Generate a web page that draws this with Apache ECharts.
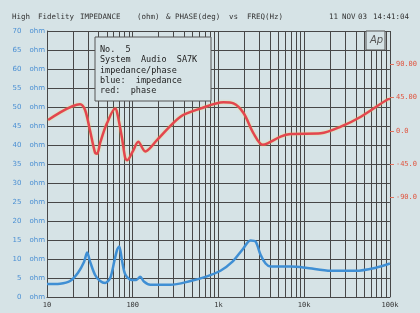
<!DOCTYPE html>
<html><head><meta charset="utf-8">
<script src="https://cdn.jsdelivr.net/npm/echarts@6/dist/echarts.min.js"></script>
<style>html,body{margin:0;padding:0;background:#d6e3e6;}#c{width:420px;height:313px;}</style>
</head><body><div id="c"></div>
<script>
// Frequency (Hz) / impedance (ohm)
const impFreq = [10,14.2,18.6,23,27.1,29.4,31.8,36.4,41.7,47.7,54.6,60.8,65.9,69.5,75.4,81.7,96,110,122,136,160,275,471,705,1055,1458,1909,2365,2708,3098,3546,4058,6950,10420,20420,40000,68500,100000];
const impOhm  = [3.4,3.5,4.2,6.4,9.3,11.7,9.3,5.8,4.2,3.7,5.0,9.3,12.5,13.3,9.3,6.0,4.5,4.5,5.3,4.0,3.2,3.2,4.2,5.3,6.9,9.3,12.5,14.9,14.6,11.1,8.8,8.0,8.0,7.7,6.9,6.9,7.7,8.8];
// Frequency (Hz) / phase (deg)
const phFreq = [10.3,24.3,27.8,31.8,36.4,38.4,42,50,62.4,65.9,75,81.7,86.2,100,116,140,194,360,615,1143,1497,1960,2564,3272,3743,5309,6950,15600,26730,45800,94800,100000];
const phDeg  = [14.5,36,28,0,-30,-31,-15,10,30,24,-10,-37,-40,-28,-15,-28,-12,19,30,38.5,37,24,-3.5,-19,-17,-8,-4.5,-3.5,5.5,19,42.6,43];
// Axis labels
const ohmTicks = [0,5,10,15,20,25,30,35,40,45,50,55,60,65,70];
const phaseTicks = [-90,-45,0,45,90];
const phaseLabels = {'-90':'-90.0','-45':'-45.0','0':'0.0','45':'45.00','90':'90.00'};
const freqLabels = {'10':'10','100':'100','1000':'1k','10000':'10k','100000':'100k'};
const boxLines = ['No.  5','System  Audio  SA7K','impedance/phase','blue:  impedance','red:  phase'];
const titleParts = [['High',12],['Fidelity',38],['IMPEDANCE',80],['(ohm)',137],['& PHASE(deg)',166],['vs',229],['FREQ(Hz)',247],['11',329],['NOV',342],['03',358],['14:41:04',373]];

const minorVals = [];
[10,100,1000,10000].forEach(d=>{for(let k=2;k<=9;k++)minorVals.push(d*k);});

const grid = {left:47,right:30,top:31,bottom:16};
const gridColor = '#474747';
const mono = 'DejaVu Sans Mono';

const chart = echarts.init(document.getElementById('c'),null,{renderer:'canvas'});
const graphic = [];
titleParts.forEach(p=>graphic.push({type:'text',left:p[1],top:13,z:100,style:{text:p[0],font:'7.5px "'+mono+'"',fill:'#333'}}));
graphic.push({type:'rect',shape:{x:95,y:37,width:116,height:64},z:100,style:{fill:'#d6e3e6',stroke:'#555',lineWidth:1}});
boxLines.forEach((t,i)=>graphic.push({type:'text',x:100,y:45+i*10.4,z:101,style:{text:t,font:'8.5px "'+mono+'"',fill:'#222'}}));
graphic.push({type:'rect',shape:{x:366,y:31,width:19,height:19},z:100,style:{fill:'#d6e3e6',stroke:'#555',lineWidth:1}});
graphic.push({type:'text',x:370,y:35,z:101,style:{text:'Ap',font:'italic 10px "DejaVu Sans"',fill:'#555'}});

chart.setOption({
  backgroundColor:'#d6e3e6',
  animation:false,
  grid:grid,
  xAxis:{type:'log',logBase:10,min:10,max:100000,
    axisLine:{show:true,lineStyle:{color:gridColor,width:1}},
    axisTick:{show:false},
    axisLabel:{margin:5,color:'#333',fontSize:7,fontFamily:mono,formatter:v=>freqLabels[String(Math.round(v))]||''},
    splitLine:{show:true,lineStyle:{color:gridColor,width:1}}},
  yAxis:[
    {type:'value',min:0,max:70,interval:5,
      axisLine:{show:true,lineStyle:{color:gridColor}},axisTick:{show:false},
      splitLine:{show:true,lineStyle:{color:gridColor,width:1}},
      axisLabel:{margin:2,formatter:v=>'{n|'+v+'}{u|ohm}',
        rich:{n:{width:10,align:'right',color:'#4a8fd3',fontSize:7,fontFamily:'DejaVu Sans'},
              u:{padding:[0,0,0,8],color:'#4a8fd3',fontSize:7,fontFamily:'DejaVu Sans'}}}},
    {type:'value',min:-225,max:135,interval:45,position:'right',
      axisLine:{show:false},splitLine:{show:false},
      axisTick:{show:true,length:4,customValues:phaseTicks,lineStyle:{color:'#e2705c'}},
      axisLabel:{margin:6,customValues:phaseTicks,color:'#e0553f',fontSize:7,fontFamily:mono,
        formatter:v=>phaseLabels[String(v)]||''}}
  ],
  series:[
    {type:'line',data:[],z:1,silent:true,
      markLine:{silent:true,symbol:['none','none'],label:{show:false},animation:false,
        lineStyle:{color:gridColor,width:1,type:'solid'},
        data:minorVals.map(v=>({xAxis:v}))}},
    {type:'line',yAxisIndex:0,z:5,smooth:0.3,showSymbol:false,
      data:impFreq.map((f,i)=>[f,impOhm[i]]),
      lineStyle:{color:'#3f8fd4',width:2.5}},
    {type:'line',yAxisIndex:1,z:6,smooth:0.3,showSymbol:false,
      data:phFreq.map((f,i)=>[f,phDeg[i]]),
      lineStyle:{color:'#e3464f',width:2.5,shadowColor:'rgba(240,220,80,0.6)',shadowBlur:2}}
  ],
  graphic:graphic
});
</script></body></html>
